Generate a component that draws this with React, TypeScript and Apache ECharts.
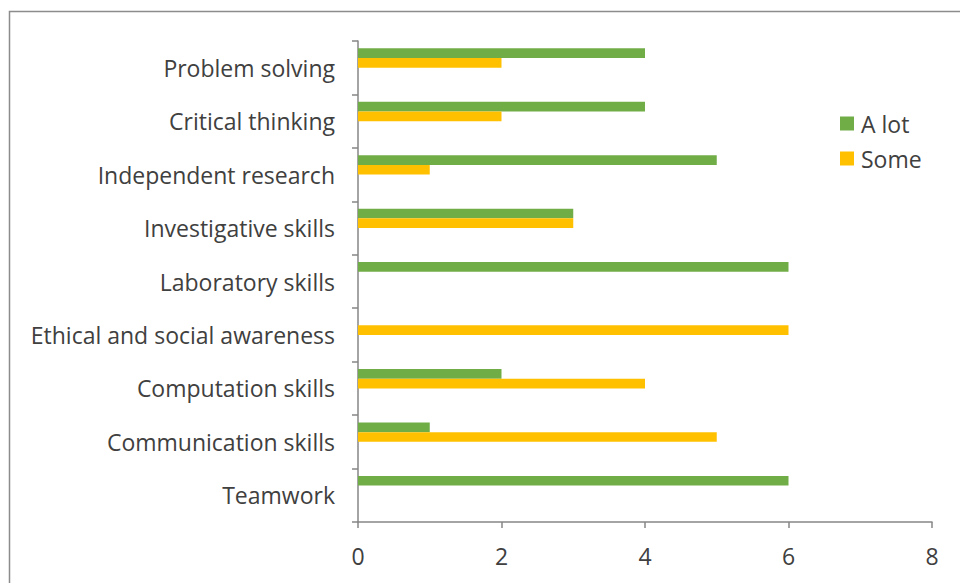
import React, { useEffect, useRef } from "react";
import * as echarts from "echarts";

const categories = [
  "Teamwork",
  "Communication skills",
  "Computation skills",
  "Ethical and social awareness",
  "Laboratory skills",
  "Investigative skills",
  "Independent research",
  "Critical thinking",
  "Problem solving",
];
const aLot = [6, 1, 2, 0, 6, 3, 5, 4, 4];
const some = [0, 5, 4, 6, 0, 3, 1, 2, 2];
const xTicks = [0, 2, 4, 6, 8];

const FONT = "Open Sans";
const TEXT = "#404040";
const AXIS = "#868686";

export default function App() {
  const ref = useRef<HTMLDivElement>(null);
  useEffect(() => {
    if (!ref.current) return;
    const chart = echarts.init(ref.current, undefined, { renderer: "svg" });
    chart.setOption({
      animation: false,
      backgroundColor: "#ffffff",
      graphic: [
        {
          type: "rect",
          shape: { x: 9.5, y: 11.5, width: 1000, height: 700 },
          style: { fill: "none", stroke: "#8c8c8c", lineWidth: 1.5 },
          silent: true,
        },
      ],
      legend: {
        orient: "vertical",
        left: 840,
        top: 112,
        padding: 0,
        data: ["A lot", "Some"],
        itemWidth: 14,
        itemHeight: 14,
        itemGap: 12,
        icon: "rect",
        textStyle: { fontFamily: FONT, fontSize: 23, color: TEXT, padding: [0, 0, 0, 2] },
      },
      grid: { left: 358, right: 28, top: 41, bottom: 61, containLabel: false },
      xAxis: {
        type: "value",
        min: xTicks[0],
        max: xTicks[xTicks.length - 1],
        interval: 2,
        axisLine: { show: true, lineStyle: { color: AXIS, width: 1.5 } },
        axisTick: { show: true, length: 6, lineStyle: { color: AXIS, width: 1.5 } },
        splitLine: { show: false },
        axisLabel: { fontFamily: FONT, fontSize: 23, color: TEXT, margin: 22 },
      },
      yAxis: {
        type: "category",
        data: categories,
        axisLine: { show: true, lineStyle: { color: AXIS, width: 1.5 } },
        axisTick: { show: true, length: 6, lineStyle: { color: AXIS, width: 1.5 } },
        axisLabel: { fontFamily: FONT, fontSize: 23, color: TEXT, margin: 23, padding: [0, 0, 3, 0] },
      },
      series: [
        { name: "A lot", type: "bar", data: aLot, barWidth: 9.7, barGap: "0%", itemStyle: { color: "#70AD47" } },
        { name: "Some", type: "bar", data: some, barWidth: 9.7, barGap: "0%", itemStyle: { color: "#FFC000" } },
        { name: "blank1", type: "bar", data: [], barWidth: 9.7, barGap: "0%" },
        { name: "blank2", type: "bar", data: [], barWidth: 9.7, barGap: "0%" },
      ],
    });
    return () => chart.dispose();
  }, []);
  return (
    <div
      ref={ref}
      style={{ position: "fixed", left: 0, top: 0, width: 960, height: 583 }}
    />
  );
}
